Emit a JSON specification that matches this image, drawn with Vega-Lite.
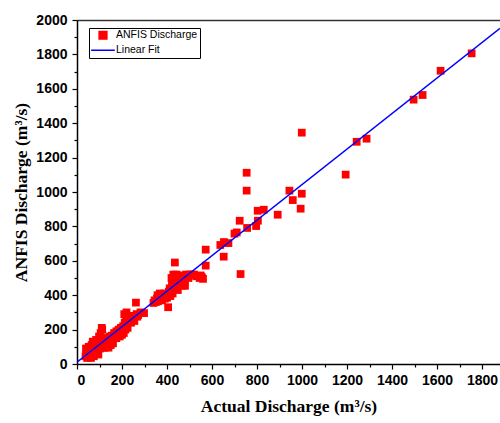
{
  "$schema": "https://vega.github.io/schema/vega-lite/v6.json",
  "width": 423,
  "height": 344,
  "autosize": {"type": "none"},
  "padding": {"left": 77, "top": 20, "right": 0, "bottom": 59},
  "background": "white",
  "config": {
    "view": {"stroke": null},
    "axis": {
      "grid": false,
      "domainColor": "#000",
      "domainWidth": 1.5,
      "tickColor": "#000",
      "tickWidth": 1.2,
      "labelFont": "Liberation Sans",
      "labelFontWeight": "bold",
      "labelFontSize": 14,
      "labelColor": "#000",
      "titleFont": "Liberation Serif",
      "titleFontWeight": "bold",
      "titleFontSize": 17.5,
      "titleColor": "#000"
    }
  },
  "datasets": {
    "obs": [
      {"actual": 38, "anfis": 45}, {"actual": 40, "anfis": 90}, {"actual": 42, "anfis": 60}, {"actual": 45, "anfis": 35},
      {"actual": 48, "anfis": 75}, {"actual": 50, "anfis": 50}, {"actual": 52, "anfis": 100}, {"actual": 55, "anfis": 40},
      {"actual": 58, "anfis": 65}, {"actual": 60, "anfis": 85}, {"actual": 62, "anfis": 35}, {"actual": 65, "anfis": 110},
      {"actual": 68, "anfis": 55}, {"actual": 70, "anfis": 130}, {"actual": 72, "anfis": 75}, {"actual": 75, "anfis": 45},
      {"actual": 78, "anfis": 95}, {"actual": 80, "anfis": 120}, {"actual": 82, "anfis": 60}, {"actual": 85, "anfis": 140},
      {"actual": 88, "anfis": 80}, {"actual": 90, "anfis": 100}, {"actual": 92, "anfis": 130}, {"actual": 95, "anfis": 55},
      {"actual": 98, "anfis": 160}, {"actual": 100, "anfis": 110}, {"actual": 102, "anfis": 90}, {"actual": 105, "anfis": 180},
      {"actual": 108, "anfis": 140}, {"actual": 110, "anfis": 210}, {"actual": 112, "anfis": 200}, {"actual": 115, "anfis": 95},
      {"actual": 118, "anfis": 125}, {"actual": 120, "anfis": 150}, {"actual": 122, "anfis": 110}, {"actual": 125, "anfis": 140},
      {"actual": 125, "anfis": 95}, {"actual": 130, "anfis": 120}, {"actual": 135, "anfis": 150}, {"actual": 135, "anfis": 105},
      {"actual": 140, "anfis": 130}, {"actual": 140, "anfis": 95}, {"actual": 145, "anfis": 160}, {"actual": 150, "anfis": 140},
      {"actual": 150, "anfis": 110}, {"actual": 155, "anfis": 165}, {"actual": 160, "anfis": 150}, {"actual": 160, "anfis": 120},
      {"actual": 165, "anfis": 180}, {"actual": 170, "anfis": 165}, {"actual": 175, "anfis": 190}, {"actual": 175, "anfis": 150},
      {"actual": 180, "anfis": 175}, {"actual": 185, "anfis": 200}, {"actual": 190, "anfis": 185}, {"actual": 190, "anfis": 160},
      {"actual": 195, "anfis": 210}, {"actual": 200, "anfis": 195}, {"actual": 200, "anfis": 170}, {"actual": 205, "anfis": 220},
      {"actual": 208, "anfis": 180}, {"actual": 210, "anfis": 290}, {"actual": 212, "anfis": 240}, {"actual": 215, "anfis": 200},
      {"actual": 218, "anfis": 260}, {"actual": 220, "anfis": 300}, {"actual": 222, "anfis": 230}, {"actual": 225, "anfis": 210},
      {"actual": 228, "anfis": 280}, {"actual": 230, "anfis": 250}, {"actual": 235, "anfis": 270}, {"actual": 240, "anfis": 240},
      {"actual": 245, "anfis": 260}, {"actual": 250, "anfis": 280}, {"actual": 255, "anfis": 250}, {"actual": 262, "anfis": 357},
      {"actual": 265, "anfis": 290}, {"actual": 268, "anfis": 275}, {"actual": 272, "anfis": 285}, {"actual": 282, "anfis": 300},
      {"actual": 298, "anfis": 296},
      {"actual": 340, "anfis": 355}, {"actual": 345, "anfis": 370}, {"actual": 350, "anfis": 360}, {"actual": 355, "anfis": 380},
      {"actual": 358, "anfis": 400}, {"actual": 360, "anfis": 365}, {"actual": 365, "anfis": 395}, {"actual": 368, "anfis": 410},
      {"actual": 370, "anfis": 375}, {"actual": 372, "anfis": 390}, {"actual": 375, "anfis": 405}, {"actual": 378, "anfis": 370},
      {"actual": 380, "anfis": 385}, {"actual": 385, "anfis": 395}, {"actual": 388, "anfis": 410}, {"actual": 390, "anfis": 380},
      {"actual": 395, "anfis": 400}, {"actual": 398, "anfis": 390}, {"actual": 400, "anfis": 385}, {"actual": 405, "anfis": 330},
      {"actual": 408, "anfis": 420}, {"actual": 410, "anfis": 400}, {"actual": 412, "anfis": 440}, {"actual": 415, "anfis": 395},
      {"actual": 418, "anfis": 430}, {"actual": 420, "anfis": 500}, {"actual": 422, "anfis": 460}, {"actual": 425, "anfis": 410},
      {"actual": 428, "anfis": 520}, {"actual": 430, "anfis": 470}, {"actual": 432, "anfis": 445}, {"actual": 435, "anfis": 590},
      {"actual": 436, "anfis": 500}, {"actual": 438, "anfis": 480}, {"actual": 440, "anfis": 455}, {"actual": 442, "anfis": 520},
      {"actual": 445, "anfis": 470}, {"actual": 448, "anfis": 430}, {"actual": 450, "anfis": 490}, {"actual": 455, "anfis": 460},
      {"actual": 460, "anfis": 510}, {"actual": 465, "anfis": 470}, {"actual": 470, "anfis": 455}, {"actual": 472, "anfis": 515},
      {"actual": 478, "anfis": 480}, {"actual": 480, "anfis": 455}, {"actual": 485, "anfis": 520}, {"actual": 490, "anfis": 515},
      {"actual": 495, "anfis": 500}, {"actual": 500, "anfis": 520}, {"actual": 510, "anfis": 520}, {"actual": 520, "anfis": 520},
      {"actual": 530, "anfis": 510}, {"actual": 545, "anfis": 500}, {"actual": 550, "anfis": 515}, {"actual": 555, "anfis": 505},
      {"actual": 560, "anfis": 495},
      {"actual": 572, "anfis": 665}, {"actual": 572, "anfis": 572}, {"actual": 637, "anfis": 692}, {"actual": 653, "anfis": 709},
      {"actual": 673, "anfis": 703}, {"actual": 652, "anfis": 624}, {"actual": 700, "anfis": 758}, {"actual": 710, "anfis": 765},
      {"actual": 723, "anfis": 833}, {"actual": 727, "anfis": 523}, {"actual": 756, "anfis": 791}, {"actual": 796, "anfis": 802},
      {"actual": 804, "anfis": 833}, {"actual": 803, "anfis": 891}, {"actual": 830, "anfis": 897}, {"actual": 892, "anfis": 868},
      {"actual": 944, "anfis": 1008}, {"actual": 999, "anfis": 990}, {"actual": 959, "anfis": 953}, {"actual": 994, "anfis": 903},
      {"actual": 754, "anfis": 1112}, {"actual": 754, "anfis": 1008}, {"actual": 999, "anfis": 1345}, {"actual": 1194, "anfis": 1101},
      {"actual": 1243, "anfis": 1292}, {"actual": 1287, "anfis": 1310}, {"actual": 1496, "anfis": 1537}, {"actual": 1536, "anfis": 1564},
      {"actual": 1616, "anfis": 1705}, {"actual": 1754, "anfis": 1806}
    ],
    "fit": [
      {"actual": 0, "fit": 10},
      {"actual": 1880, "fit": 1952}
    ]
  },
  "layer": [
    {
      "data": {"name": "obs"},
      "mark": {"type": "square", "filled": true, "size": 60, "opacity": 1},
      "encoding": {
        "x": {
          "field": "actual", "type": "quantitative",
          "scale": {"domain": [0, 1880], "nice": false, "zero": false},
          "axis": {
            "orient": "bottom", "format": "d",
            "values": [0, 200, 400, 600, 800, 1000, 1200, 1400, 1600, 1800],
            "tickSize": 5, "labelPadding": 4,
            "title": "Actual Discharge (m³/s)", "titlePadding": 10
          }
        },
        "y": {
          "field": "anfis", "type": "quantitative",
          "scale": {"domain": [0, 2000], "nice": false, "zero": false},
          "axis": {
            "orient": "left", "format": "d",
            "values": [0, 200, 400, 600, 800, 1000, 1200, 1400, 1600, 1800, 2000],
            "tickSize": 5, "labelPadding": 5,
            "title": "ANFIS Discharge (m³/s)", "titlePadding": 5
          }
        },
        "color": {
          "datum": "ANFIS Discharge",
          "scale": {"domain": ["ANFIS Discharge", "Linear Fit"], "range": ["#ff0000", "#0000ff"]},
          "legend": {
            "orient": "none", "legendX": 12, "legendY": 8,
            "title": null,
            "strokeColor": "#000", "fillColor": "white", "padding": 2,
            "labelFont": "Liberation Sans", "labelFontSize": 10.5, "labelColor": "#000",
            "labelOffset": 14.5, "rowPadding": 2,
            "symbolSize": 560, "symbolStrokeWidth": 1.5,
            "encode": {
              "symbols": {
                "update": {
                  "x": {"value": 12},
                  "shape": {"signal": "datum.value === 'Linear Fit' ? 'stroke' : 'square'"},
                  "fill": {"signal": "datum.value === 'Linear Fit' ? 'transparent' : '#ff0000'"},
                  "stroke": {"signal": "datum.value === 'Linear Fit' ? '#0000ff' : 'transparent'"},
                  "size": {"signal": "datum.value === 'Linear Fit' ? 560 : 60"}
                }
              }
            }
          }
        }
      }
    },
    {
      "data": {"name": "fit"},
      "mark": {"type": "line", "strokeWidth": 1.5, "clip": true},
      "encoding": {
        "x": {
          "field": "actual", "type": "quantitative",
          "axis": {
            "orient": "bottom",
            "values": [100, 300, 500, 700, 900, 1100, 1300, 1500, 1700],
            "tickSize": 3, "labels": false, "domain": false, "title": null
          }
        },
        "y": {
          "field": "fit", "type": "quantitative",
          "axis": {
            "orient": "left",
            "values": [100, 300, 500, 700, 900, 1100, 1300, 1500, 1700, 1900],
            "tickSize": 3, "labels": false, "domain": false, "title": null
          }
        },
        "color": {
          "datum": "Linear Fit",
          "legend": {
            "orient": "none", "legendX": 12, "legendY": 8,
            "title": null,
            "strokeColor": "#000", "fillColor": "white", "padding": 2,
            "labelFont": "Liberation Sans", "labelFontSize": 10.5, "labelColor": "#000",
            "labelOffset": 14.5, "rowPadding": 2,
            "symbolSize": 560, "symbolStrokeWidth": 1.5,
            "encode": {
              "symbols": {
                "update": {
                  "x": {"value": 12},
                  "shape": {"signal": "datum.value === 'Linear Fit' ? 'stroke' : 'square'"},
                  "fill": {"signal": "datum.value === 'Linear Fit' ? 'transparent' : '#ff0000'"},
                  "stroke": {"signal": "datum.value === 'Linear Fit' ? '#0000ff' : 'transparent'"},
                  "size": {"signal": "datum.value === 'Linear Fit' ? 560 : 60"}
                }
              }
            }
          }
        }
      }
    },
    {
      "mark": {"type": "text", "font": "Liberation Sans", "fontSize": 18, "color": "#222", "align": "left", "baseline": "alphabetic"},
      "encoding": {
        "x": {
          "datum": 1391, "type": "quantitative",
          "axis": {"orient": "top", "domain": true, "domainColor": "#333", "ticks": false, "labels": false, "title": null}
        },
        "y": {"datum": 1186, "type": "quantitative", "axis": null},
        "text": {"value": "R²=0.978"}
      }
    }
  ],
  "resolve": {"axis": {"x": "independent", "y": "independent"}}
}
